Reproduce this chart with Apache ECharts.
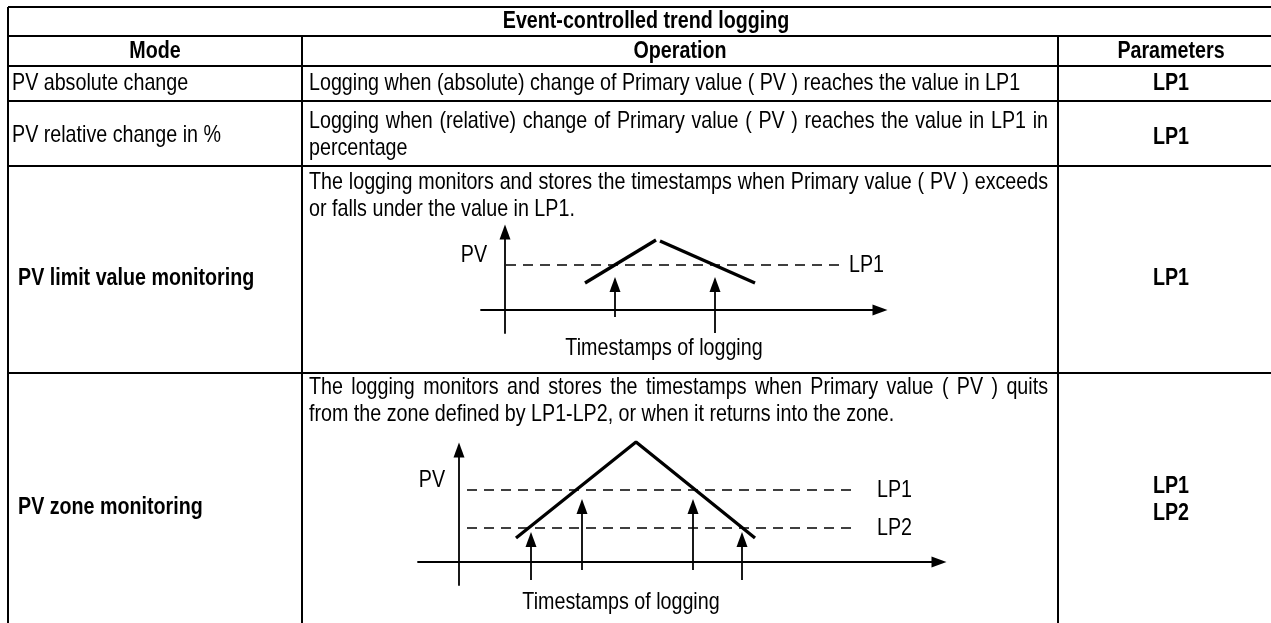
<!DOCTYPE html>
<html><head><meta charset="utf-8">
<script src="https://cdn.jsdelivr.net/npm/echarts@6/dist/echarts.min.js"></script>
<style>html,body{margin:0;padding:0;background:#fff}#c{width:1271px;height:623px}</style>
</head><body><div id="c"></div>
<script>
// ---------------- data ----------------
const title = 'Event-controlled trend logging';
const headers = ['Mode', 'Operation', 'Parameters'];
const modes = ['PV absolute change', 'PV relative change in %', 'PV limit value monitoring', 'PV zone monitoring'];
const modeBold = [false, false, true, true];
const operations = [
  ['Logging when (absolute) change of Primary value ( PV ) reaches the value in LP1'],
  ['Logging when (relative) change of Primary value ( PV ) reaches the value in LP1 in', 'percentage'],
  ['The logging monitors and stores the timestamps when Primary value ( PV ) exceeds', 'or falls under the value in LP1.'],
  ['The logging monitors and stores the timestamps when Primary value ( PV ) quits', 'from the zone defined by LP1-LP2, or when it returns into the zone.']
];
const parameters = [['LP1'], ['LP1'], ['LP1'], ['LP1', 'LP2']];
const timeLabel = 'Timestamps of logging';
const valueLabel = 'PV';

// Diagram 1: PV limit value monitoring (time, PV)
const d1Rise = [[8.0, 2.7], [15.1, 7.0]];
const d1Fall = [[15.5, 6.9], [25.0, 2.7]];
const d1Limits = [{name: 'LP1', value: 4.5}];
const d1LimitSpan = [0.1, 33.7];
const d1Stamps = [11.0, 21.0];
const d1StampTop = [2.55, 2.55];
const d1StampBottom = [-0.7, -2.3];
const d1X = [-2.4, 37.5];
const d1Y = [-2.3, 7.8];

// Diagram 2: PV zone monitoring (time, PV)
const d2Trend = [[5.7, 2.4], [17.7, 12.0], [29.6, 2.4]];
const d2Limits = [{name: 'LP1', value: 7.2}, {name: 'LP2', value: 3.4}];
const d2LimitSpan = [0.8, 39.3];
const d2Stamps = [7.2, 12.3, 23.4, 28.3];
const d2StampTop = [2.25, 5.55, 5.55, 2.25];
const d2StampBottom = [-1.8, -0.8, -0.8, -1.8];
const d2X = [-4.1, 48.0];
const d2Y = [-2.3, 11.2];

// ---------------- layout / style ----------------
function fontAvailable(name) {
  const c = document.createElement('canvas').getContext('2d');
  const s = 'abcdefghijklmnopqrstuvwxyzABCDEFGHIJ0123456789';
  c.font = '40px monospace'; const w1 = c.measureText(s).width;
  c.font = '40px "' + name + '", monospace'; const w2 = c.measureText(s).width;
  return Math.abs(w1 - w2) > 0.5;
}
const NARROW = fontAvailable('Liberation Sans Narrow');
const FAMILY = NARROW ? '"Liberation Sans Narrow", sans-serif' : '"Liberation Sans", Arial, sans-serif';
const SX = NARROW ? 1 : 0.82;
const FS = 24;
const fontR = FS + 'px ' + FAMILY;
const fontB = 'bold ' + FS + 'px ' + FAMILY;
const tbl = {left: 8, right: 1300, top: 7, bottom: 660, hLines: [36, 66, 101, 166, 373], vLines: [302, 1058]};
const col1X = [12, 12, 18, 18], col2X = 309, col2R = 1048;
const titleC = 646, headerC = [155, 680, 1171], titleY = 21.5, headerY = 51;
const modeY = [83.5, 135, 278, 507];
const paramY = [[83.5], [137], [278], [486, 513]];
const opY = [[83.5], [121, 148], [182, 209], [387, 414]];
const box1 = {ox: 505, oy: 310, unit: 10};
const box2 = {ox: 459, oy: 562, unit: 10};
const d1LabelPos = {pv: [474, 255], ts: [664, 348], limitGap: 7};
const d2LabelPos = {pv: [432, 480], ts: [621, 602], limitGap: 25};

const ctx = document.createElement('canvas').getContext('2d');
const els = [];
function txt(s, x, y, font, align) {
  els.push({type: 'text', x: x, y: y, scaleX: SX, silent: true,
    style: {text: s, font: font, fill: '#000', align: align, verticalAlign: 'middle'}});
}
function line(x1, y1, x2, y2) {
  els.push({type: 'line', silent: true, shape: {x1: x1, y1: y1, x2: x2, y2: y2},
    style: {stroke: '#000', lineWidth: 2}});
}
function justified(s, x0, x1, y) {
  const words = s.split(' ');
  ctx.font = fontR;
  const w = words.map(t => ctx.measureText(t).width * SX);
  const total = w.reduce((a, b) => a + b, 0);
  const gap = (x1 - x0 - total) / (words.length - 1);
  let x = x0;
  words.forEach((t, i) => { txt(t, x, y, fontR, 'left'); x += w[i] + gap; });
}

// table lines
line(tbl.left, tbl.top, tbl.right, tbl.top);
tbl.hLines.forEach(y => line(tbl.left, y, tbl.right, y));
line(tbl.left, tbl.top, tbl.left, tbl.bottom);
tbl.vLines.forEach(x => line(x, tbl.hLines[0], x, tbl.bottom));

// texts
txt(title, titleC, titleY, fontB, 'center');
headers.forEach((h, i) => txt(h, headerC[i], headerY, fontB, 'center'));
modes.forEach((m, i) => txt(m, col1X[i], modeY[i], modeBold[i] ? fontB : fontR, 'left'));
parameters.forEach((p, i) => p.forEach((s, j) => txt(s, headerC[2], paramY[i][j], fontB, 'center')));
operations.forEach((lines, i) => lines.forEach((s, j) => {
  if (j < lines.length - 1) justified(s, col2X, col2R, opY[i][j]);
  else txt(s, col2X, opY[i][j], fontR, 'left');
}));
[d1LabelPos, d2LabelPos].forEach(p => {
  txt(valueLabel, p.pv[0], p.pv[1], fontR, 'center');
  txt(timeLabel, p.ts[0], p.ts[1], fontR, 'center');
});

// ---------------- chart ----------------
function gridOf(b, xr, yr) {
  return {left: b.ox + xr[0] * b.unit, width: (xr[1] - xr[0]) * b.unit,
          top: b.oy - yr[1] * b.unit, height: (yr[1] - yr[0]) * b.unit,
          containLabel: false, outerBoundsMode: 'none'};
}
function axis(gi, r) {
  return {type: 'value', gridIndex: gi, min: r[0], max: r[1],
    axisLine: {show: true, onZero: true, symbol: ['none', 'triangle'], symbolSize: [11, 15],
      lineStyle: {color: '#000', width: 1.8}},
    axisTick: {show: false}, axisLabel: {show: false}, splitLine: {show: false}};
}
function marks(limits, span, stamps, tops, bottoms) {
  const data = [];
  limits.forEach(l => data.push([
    {coord: [span[0], l.value], symbol: 'none', lineStyle: {type: [10, 7], width: 1.5, color: '#000'}},
    {coord: [span[1], l.value], symbol: 'none'}]));
  stamps.forEach((t, i) => data.push([
    {coord: [t, bottoms[i]], symbol: 'none', lineStyle: {type: 'solid', width: 1.8, color: '#000'}},
    {coord: [t, tops[i]], symbol: 'triangle', symbolSize: [11, 15]}]));
  return {silent: true, animation: false, symbol: ['none', 'none'], symbolSize: [11, 15],
    label: {show: false}, lineStyle: {color: '#000'}, itemStyle: {color: '#000'},
    emphasis: {disabled: true}, data: data};
}
function trend(gi, d, mk) {
  const s = {type: 'line', xAxisIndex: gi, yAxisIndex: gi, data: d, symbol: 'none', silent: true, clip: false,
    lineStyle: {color: '#000', width: 3.3}, itemStyle: {color: '#000'}, emphasis: {disabled: true}, animation: false};
  if (mk) s.markLine = mk;
  return s;
}

const chart = echarts.init(document.getElementById('c'), null, {renderer: 'canvas'});
chart.setOption({
  animation: false,
  backgroundColor: '#fff',
  grid: [gridOf(box1, d1X, d1Y), gridOf(box2, d2X, d2Y)],
  xAxis: [axis(0, d1X), axis(1, d2X)],
  yAxis: [axis(0, d1Y), axis(1, d2Y)],
  series: [
    trend(0, d1Rise, marks(d1Limits, d1LimitSpan, d1Stamps, d1StampTop, d1StampBottom)),
    trend(0, d1Fall, null),
    trend(1, d2Trend, marks(d2Limits, d2LimitSpan, d2Stamps, d2StampTop, d2StampBottom))
  ]
});
// limit labels placed at the end of each limit line through the chart's scales
[[0, d1Limits, d1LimitSpan, d1LabelPos.limitGap], [1, d2Limits, d2LimitSpan, d2LabelPos.limitGap]].forEach(a => {
  a[1].forEach(l => {
    const p = chart.convertToPixel({gridIndex: a[0]}, [a[2][1], l.value]);
    txt(l.name, p[0] + a[3], p[1], fontR, 'left');
  });
});
chart.setOption({graphic: {elements: els}});
</script></body></html>
